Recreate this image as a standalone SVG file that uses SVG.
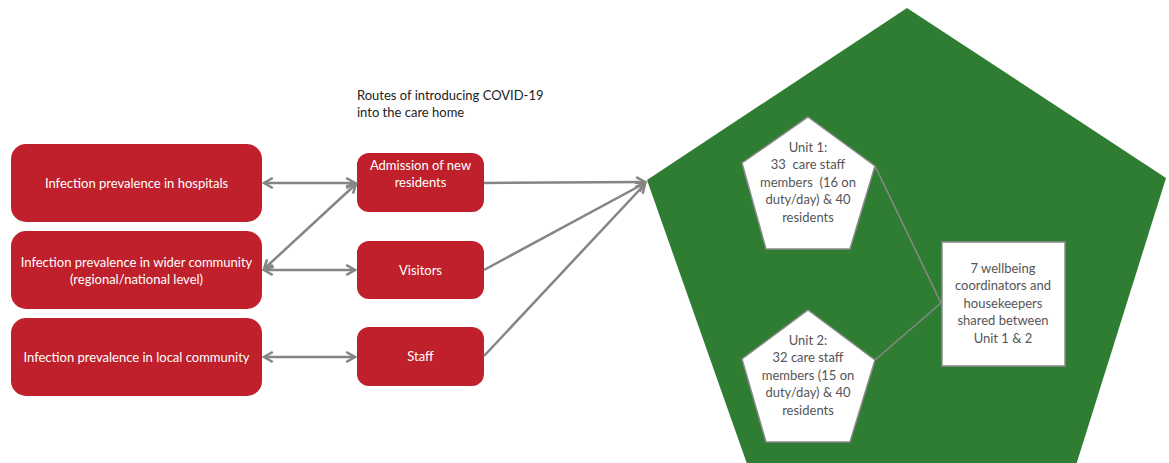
<svg xmlns="http://www.w3.org/2000/svg" width="1169" height="463" viewBox="0 0 1169 463">
  <style>
    .src { fill: #c0202b; }
    .lbl { font-family: Lato, "Liberation Sans", sans-serif; font-size: 13px; fill: #ffffff; text-anchor: middle; }
    .dark { font-family: Lato, "Liberation Sans", sans-serif; font-size: 13px; fill: #222222; }
    .unit { fill: #ffffff; stroke: #8a8a8a; stroke-width: 1.5; }
    .utxt { font-family: Lato, "Liberation Sans", sans-serif; font-size: 13px; fill: #555555; text-anchor: middle; white-space: pre; }
    .conn { stroke: #858585; stroke-width: 2.5; fill: none; }
    .link { stroke: #8a8a8a; stroke-width: 1.5; fill: none; }
  </style>
  <defs>
    <marker id="chev" viewBox="0 0 10 10" refX="8" refY="5" markerWidth="5" markerHeight="5" orient="auto-start-reverse" markerUnits="strokeWidth">
      <path d="M1,1 L8,5 L1,9" fill="none" stroke="#858585" stroke-width="2"/>
    </marker>
  </defs>
  <rect width="1169" height="463" fill="#ffffff"/>

  <!-- care home -->
  <g id="care-home">
    <polygon points="907,8 1166,178 1072,478 752,478 647,180" fill="#2f7d32"/>
  </g>

  <text class="dark" x="357" y="100">Routes of introducing COVID-19</text>
  <text class="dark" x="357" y="117">into the care home</text>

  <!-- sources of infection -->
  <g id="hospitals">
    <rect class="src" x="11" y="144" width="251" height="78" rx="15"/>
    <text class="lbl" x="136.5" y="187.5">Infection prevalence in hospitals</text>
  </g>
  <g id="wider-community">
    <rect class="src" x="11" y="231" width="251" height="78" rx="15"/>
    <text class="lbl" x="136.5" y="266.5">Infection prevalence in wider community</text>
    <text class="lbl" x="136.5" y="283.5">(regional/national level)</text>
  </g>
  <g id="local-community">
    <rect class="src" x="11" y="318" width="251" height="78" rx="15"/>
    <text class="lbl" x="136.5" y="361.5">Infection prevalence in local community</text>
  </g>

  <!-- routes -->
  <g id="admission">
    <rect class="src" x="357" y="153" width="127" height="59" rx="12"/>
    <text class="lbl" x="420.5" y="169.5">Admission of new</text>
    <text class="lbl" x="420.5" y="187">residents</text>
  </g>
  <g id="visitors">
    <rect class="src" x="357" y="241" width="127" height="58" rx="12"/>
    <text class="lbl" x="420.5" y="274.5">Visitors</text>
  </g>
  <g id="staff">
    <rect class="src" x="357" y="327" width="127" height="59" rx="12"/>
    <text class="lbl" x="420.5" y="361">Staff</text>
  </g>

  <!-- units -->
  <g id="unit1">
    <polygon class="unit" points="808,117 875,166 850,249 766,249 742,163"/>
    <text class="utxt" x="808" y="151.5">Unit 1:</text>
    <text class="utxt" x="808" y="169" xml:space="preserve">33  care staff</text>
    <text class="utxt" x="808" y="186.5" xml:space="preserve">members  (16 on</text>
    <text class="utxt" x="808" y="204">duty/day) &amp; 40</text>
    <text class="utxt" x="808" y="221.5">residents</text>
  </g>
  <g id="unit2">
    <polygon class="unit" points="808,310 875,360 850,442 766,442 742,359"/>
    <text class="utxt" x="808" y="344.5">Unit 2:</text>
    <text class="utxt" x="808" y="362">32 care staff</text>
    <text class="utxt" x="808" y="379.5">members (15 on</text>
    <text class="utxt" x="808" y="397">duty/day) &amp; 40</text>
    <text class="utxt" x="808" y="414.5">residents</text>
  </g>
  <g id="shared-staff">
    <rect class="unit" x="942" y="242" width="123" height="124"/>
    <text class="utxt" x="1003" y="272.5">7 wellbeing</text>
    <text class="utxt" x="1003" y="290">coordinators and</text>
    <text class="utxt" x="1003" y="307.5">housekeepers</text>
    <text class="utxt" x="1003" y="325">shared between</text>
    <text class="utxt" x="1003" y="342.5">Unit 1 &amp; 2</text>
  </g>

  <!-- connectors -->
  <g id="connectors">
    <line class="conn" x1="264" y1="183" x2="355" y2="183" marker-start="url(#chev)" marker-end="url(#chev)"/>
    <line class="conn" x1="264" y1="269" x2="356" y2="184" marker-start="url(#chev)" marker-end="url(#chev)"/>
    <line class="conn" x1="264" y1="270" x2="355" y2="270" marker-start="url(#chev)" marker-end="url(#chev)"/>
    <line class="conn" x1="264" y1="357" x2="355" y2="357" marker-start="url(#chev)" marker-end="url(#chev)"/>
    <line class="conn" x1="484" y1="183" x2="645" y2="182" marker-end="url(#chev)"/>
    <line class="conn" x1="484" y1="270" x2="645" y2="183" marker-end="url(#chev)"/>
    <line class="conn" x1="484" y1="356" x2="645" y2="184" marker-end="url(#chev)"/>
    <line class="link" x1="875" y1="166" x2="941" y2="303"/>
    <line class="link" x1="875" y1="360" x2="941" y2="303"/>
  </g>
</svg>
